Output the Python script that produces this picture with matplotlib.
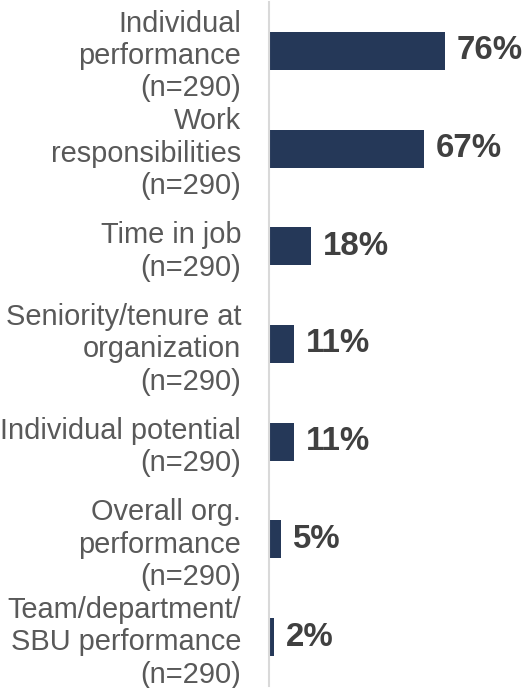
import matplotlib.pyplot as plt

categories = [
    "Individual\nperformance\n(n=290)",
    "Work\nresponsibilities\n(n=290)",
    "Time in job\n(n=290)",
    "Seniority/tenure at\norganization\n(n=290)",
    "Individual potential\n(n=290)",
    "Overall org.\nperformance\n(n=290)",
    "Team/department/\nSBU performance\n(n=290)",
]
values = [76, 67, 18, 11, 11, 5, 2]
labels = ["76%", "67%", "18%", "11%", "11%", "5%", "2%"]

plt.rcParams['font.family'] = ['Liberation Sans', 'DejaVu Sans']

fig = plt.figure(figsize=(5.25, 6.88), dpi=100)
ax = fig.add_axes([269 / 525, 2 / 688, 256 / 525, 684 / 688])

y = range(len(values))
ax.barh(y, values, height=0.39, color='#253858')
ax.set_ylim(len(values) - 0.5, -0.5)
ax.set_xlim(0, 256 / 2.31)

for i, v in enumerate(values):
    ax.annotate(labels[i], (v, i), xytext=(8.5, 0), textcoords='offset points',
                va='center', ha='left', fontsize=23.8, fontweight='bold', color='#404040')

ax.set_yticks(list(y))
ax.set_yticklabels(categories, fontsize=20.9, color='#595959', linespacing=1.2)
ax.tick_params(axis='y', length=0, pad=20)
ax.set_xticks([])

for s in ['top', 'right', 'bottom']:
    ax.spines[s].set_visible(False)
ax.spines['left'].set_color('#d9d9d9')
ax.spines['left'].set_linewidth(1.5)

fig.savefig('out.png', dpi=100)
